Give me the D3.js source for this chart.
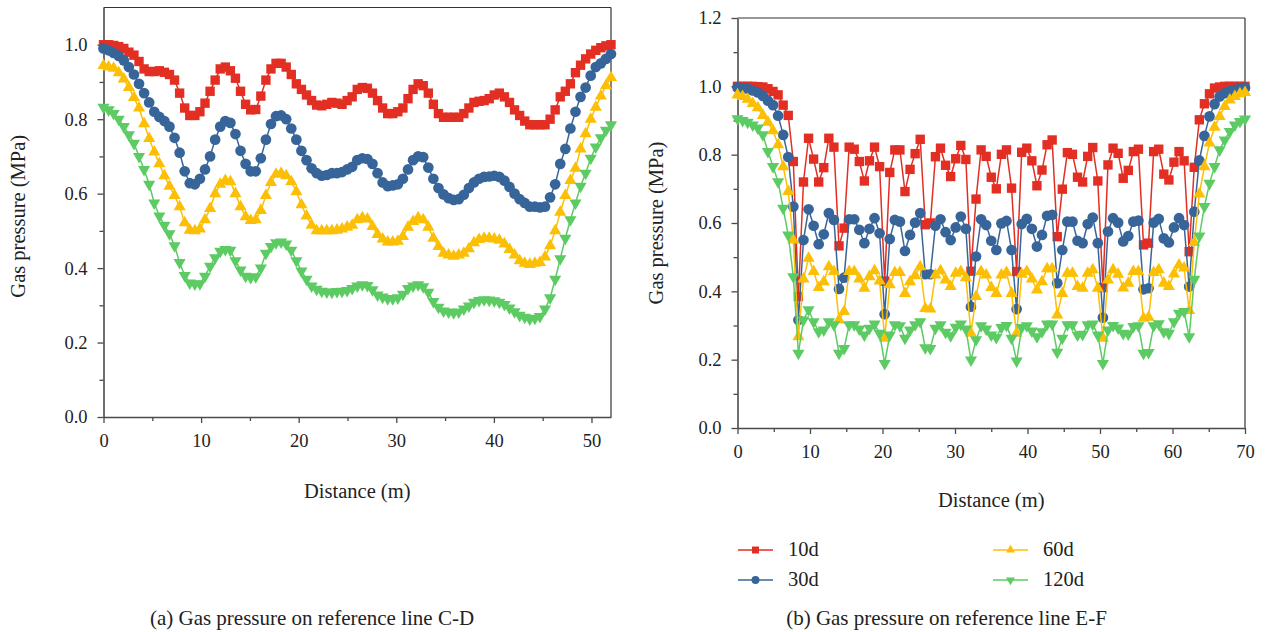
<!DOCTYPE html>
<html><head><meta charset="utf-8">
<script src="https://cdn.jsdelivr.net/npm/d3@7"></script>
<style>
body{margin:0;background:#fff}
text{font-family:"Liberation Serif","DejaVu Serif",serif;fill:#222}
</style>
</head><body>
<svg id="chart" width="1265" height="632"></svg>
<script>
// ---------- data ----------
const seriesNames = ["10d", "30d", "60d", "120d"];
const seriesColors = ["#e22e23", "#386599", "#fcbf05", "#5dcb63"];

// reference line C-D : 101 samples, 0.52 m apart (0 .. 52 m)
const cdStep = 0.52;
const cd10 = [1.0,1.0,0.998,0.995,0.99,0.98,0.972,0.955,0.935,0.928,
0.928,0.93,0.926,0.92,0.905,0.87,0.83,0.81,0.81,0.82,
0.843,0.875,0.905,0.935,0.94,0.93,0.91,0.875,0.84,0.825,
0.826,0.862,0.905,0.935,0.95,0.95,0.94,0.92,0.895,0.88,
0.865,0.85,0.838,0.836,0.84,0.845,0.843,0.84,0.85,0.86,
0.88,0.885,0.883,0.87,0.85,0.83,0.815,0.815,0.82,0.83,
0.855,0.88,0.895,0.89,0.87,0.84,0.815,0.805,0.805,0.805,
0.805,0.815,0.83,0.845,0.848,0.85,0.855,0.865,0.87,0.86,
0.845,0.825,0.81,0.795,0.785,0.785,0.785,0.785,0.80,0.825,
0.86,0.875,0.895,0.925,0.945,0.962,0.975,0.985,0.992,0.997,
1.0];
const cd30 = [0.99,0.985,0.978,0.97,0.958,0.94,0.92,0.895,0.87,0.845,
0.82,0.806,0.795,0.78,0.75,0.71,0.66,0.628,0.625,0.64,
0.665,0.70,0.745,0.78,0.795,0.79,0.76,0.715,0.68,0.66,
0.66,0.695,0.745,0.787,0.808,0.81,0.80,0.775,0.745,0.715,
0.69,0.668,0.655,0.648,0.65,0.655,0.655,0.658,0.665,0.672,
0.69,0.695,0.693,0.68,0.655,0.63,0.62,0.622,0.625,0.64,
0.665,0.69,0.70,0.698,0.67,0.64,0.615,0.598,0.588,0.583,
0.585,0.597,0.615,0.63,0.64,0.645,0.646,0.648,0.645,0.635,
0.618,0.60,0.585,0.575,0.565,0.565,0.563,0.565,0.59,0.625,
0.68,0.72,0.775,0.82,0.86,0.885,0.917,0.94,0.95,0.962,
0.975];
const cd60 = [0.944,0.94,0.937,0.925,0.908,0.885,0.858,0.83,0.788,0.748,
0.712,0.68,0.648,0.62,0.595,0.565,0.522,0.502,0.50,0.505,
0.53,0.56,0.60,0.625,0.635,0.632,0.60,0.565,0.538,0.528,
0.53,0.555,0.595,0.63,0.652,0.655,0.648,0.632,0.605,0.57,
0.54,0.515,0.50,0.50,0.50,0.50,0.502,0.505,0.51,0.515,
0.53,0.535,0.532,0.512,0.49,0.478,0.47,0.47,0.472,0.485,
0.51,0.525,0.535,0.53,0.51,0.48,0.458,0.44,0.435,0.432,
0.435,0.44,0.452,0.468,0.477,0.48,0.48,0.478,0.475,0.465,
0.45,0.435,0.42,0.413,0.41,0.413,0.415,0.43,0.46,0.50,
0.55,0.595,0.635,0.668,0.72,0.761,0.80,0.832,0.862,0.89,
0.912];
const cd120 = [0.832,0.825,0.815,0.80,0.78,0.758,0.735,0.70,0.665,0.625,
0.575,0.54,0.515,0.492,0.46,0.415,0.38,0.36,0.357,0.358,
0.378,0.405,0.428,0.445,0.45,0.448,0.42,0.395,0.378,0.375,
0.377,0.40,0.44,0.458,0.468,0.47,0.465,0.448,0.42,0.392,
0.37,0.352,0.343,0.338,0.336,0.335,0.337,0.338,0.34,0.345,
0.352,0.355,0.353,0.342,0.328,0.322,0.318,0.318,0.32,0.33,
0.345,0.352,0.355,0.35,0.335,0.31,0.295,0.285,0.282,0.28,
0.282,0.29,0.298,0.308,0.313,0.315,0.314,0.312,0.308,0.302,
0.293,0.283,0.273,0.268,0.263,0.265,0.27,0.29,0.32,0.37,
0.425,0.48,0.53,0.575,0.62,0.655,0.695,0.725,0.75,0.77,
0.785];

// reference line E-F : 101 samples, 0.7 m apart (0 .. 70 m)
const efStep = 0.7;
const ef10 = [1.0,1.0,1.0,1.0,0.999,0.998,0.993,0.985,0.975,0.945,
0.915,0.78,0.385,0.72,0.848,0.787,0.72,0.762,0.848,0.822,
0.533,0.585,0.822,0.816,0.78,0.723,0.782,0.822,0.765,0.43,
0.748,0.814,0.814,0.692,0.757,0.803,0.845,0.595,0.6,0.794,
0.819,0.769,0.736,0.788,0.827,0.786,0.459,0.67,0.814,0.795,
0.734,0.70,0.801,0.814,0.702,0.458,0.807,0.819,0.782,0.709,
0.755,0.829,0.843,0.56,0.699,0.806,0.801,0.734,0.72,0.795,
0.821,0.723,0.411,0.77,0.819,0.804,0.731,0.754,0.809,0.816,
0.536,0.541,0.809,0.816,0.743,0.726,0.778,0.809,0.782,0.516,
0.763,0.902,0.949,0.978,0.995,0.998,1.0,1.0,1.0,1.0,
1.0];
const ef30 = [0.997,0.995,0.993,0.988,0.982,0.972,0.958,0.945,0.914,0.858,
0.793,0.648,0.316,0.55,0.64,0.592,0.538,0.567,0.629,0.609,
0.407,0.44,0.611,0.611,0.58,0.541,0.583,0.614,0.57,0.333,
0.553,0.609,0.604,0.518,0.565,0.601,0.629,0.45,0.45,0.592,
0.611,0.573,0.55,0.587,0.619,0.583,0.355,0.502,0.611,0.594,
0.548,0.521,0.599,0.606,0.521,0.348,0.597,0.612,0.583,0.531,
0.565,0.621,0.624,0.424,0.521,0.604,0.604,0.548,0.541,0.597,
0.616,0.541,0.323,0.575,0.614,0.601,0.546,0.562,0.604,0.607,
0.406,0.409,0.601,0.612,0.555,0.543,0.587,0.614,0.594,0.414,
0.633,0.783,0.855,0.912,0.948,0.97,0.98,0.986,0.99,0.994,
0.996];
const ef60 = [0.975,0.97,0.962,0.95,0.937,0.915,0.895,0.87,0.829,0.765,
0.692,0.55,0.267,0.436,0.497,0.458,0.411,0.428,0.472,0.458,
0.316,0.341,0.458,0.458,0.436,0.409,0.443,0.46,0.43,0.263,
0.419,0.455,0.455,0.394,0.428,0.446,0.472,0.35,0.348,0.448,
0.46,0.433,0.414,0.453,0.458,0.44,0.277,0.385,0.458,0.448,
0.411,0.394,0.448,0.455,0.394,0.277,0.45,0.458,0.436,0.404,
0.428,0.466,0.466,0.331,0.394,0.453,0.453,0.414,0.409,0.453,
0.463,0.409,0.263,0.433,0.463,0.45,0.41,0.424,0.458,0.458,
0.321,0.324,0.455,0.463,0.424,0.414,0.451,0.477,0.468,0.344,
0.543,0.685,0.765,0.834,0.88,0.912,0.941,0.96,0.97,0.978,
0.982];
const ef120 = [0.905,0.9,0.895,0.887,0.878,0.858,0.809,0.765,0.721,0.643,
0.565,0.443,0.219,0.316,0.346,0.311,0.282,0.287,0.311,0.302,
0.219,0.233,0.302,0.302,0.29,0.272,0.292,0.304,0.277,0.189,
0.272,0.302,0.299,0.263,0.287,0.302,0.311,0.235,0.233,0.292,
0.302,0.28,0.27,0.295,0.304,0.29,0.199,0.258,0.299,0.29,
0.272,0.265,0.294,0.3,0.263,0.196,0.294,0.299,0.284,0.267,
0.282,0.304,0.304,0.222,0.263,0.302,0.302,0.272,0.274,0.302,
0.304,0.272,0.189,0.287,0.3,0.293,0.277,0.275,0.297,0.299,
0.219,0.221,0.299,0.305,0.282,0.277,0.311,0.336,0.341,0.267,
0.435,0.562,0.648,0.716,0.765,0.814,0.843,0.868,0.887,0.897,
0.904];

const cdXTicks = [0, 10, 20, 30, 40, 50];
const cdYTicks = [0, 0.2, 0.4, 0.6, 0.8, 1.0];
const efXTicks = [0, 10, 20, 30, 40, 50, 60, 70];
const efYTicks = [0, 0.2, 0.4, 0.6, 0.8, 1.0, 1.2];
const yTitle = "Gas pressure (MPa)";
const xTitle = "Distance (m)";
const captionA = "(a) Gas pressure on reference line C-D";
const captionB = "(b) Gas pressure on reference line E-F";

// ---------- drawing ----------
const svg = d3.select("#chart");
const symbolTypes = [d3.symbolSquare, d3.symbolCircle, d3.symbolTriangle, d3.symbolTriangle];
const symbolSizes = [88, 90, 64, 64];
const symbolRot = [0, 0, 0, 180];
const axisColor = "#4a4a4a";
const tickFont = "18.5px";
const titleFont = "20.5px";

function drawPanel(opt) {
  const x = d3.scaleLinear().domain(opt.xDomain).range([opt.left, opt.right]);
  const y = d3.scaleLinear().domain(opt.yDomain).range([opt.bottom, opt.top]);
  const g = svg.append("g");

  // frame (top and right)
  g.append("line").attr("x1", opt.left).attr("x2", opt.right).attr("y1", opt.top).attr("y2", opt.top)
    .attr("stroke", "#333").attr("stroke-width", 1.2);
  g.append("line").attr("x1", opt.right).attr("x2", opt.right).attr("y1", opt.top).attr("y2", opt.bottom)
    .attr("stroke", "#333").attr("stroke-width", 1.2);

  // minor ticks
  const xMinor = opt.xTicks.slice(0, -1).map(v => v + 5);
  if (opt.xTicks[opt.xTicks.length - 1] + 5 <= opt.xDomain[1]) xMinor.push(opt.xTicks[opt.xTicks.length - 1] + 5);
  const yMinor = opt.yTicks.slice(0, -1).map(v => +(v + 0.1).toFixed(2));
  g.append("g").attr("transform", `translate(0,${opt.bottom})`)
    .call(d3.axisBottom(x).tickValues(xMinor).tickSize(4).tickFormat(""))
    .call(s => s.select(".domain").remove());
  g.append("g").attr("transform", `translate(${opt.left},0)`)
    .call(d3.axisLeft(y).tickValues(yMinor).tickSize(4).tickFormat(""))
    .call(s => s.select(".domain").remove());

  // major axes
  const xa = g.append("g").attr("transform", `translate(0,${opt.bottom})`)
    .call(d3.axisBottom(x).tickValues(opt.xTicks).tickSize(6).tickSizeOuter(0).tickPadding(11).tickFormat(d3.format("d")));
  const ya = g.append("g").attr("transform", `translate(${opt.left},0)`)
    .call(d3.axisLeft(y).tickValues(opt.yTicks).tickSize(6).tickSizeOuter(0).tickPadding(10).tickFormat(d3.format(".1f")));
  [xa, ya].forEach(a => {
    a.selectAll("text").style("font-size", tickFont).style("font-family", '"Liberation Serif",serif').attr("fill", "#222");
    a.select(".domain").attr("stroke", axisColor).attr("stroke-width", 1.6);
  });
  g.selectAll("g.tick line").attr("stroke", axisColor).attr("stroke-width", 1.3);

  // series
  opt.series.forEach((vals, si) => {
    const pts = vals.map((v, i) => [i * opt.step, v]);
    g.append("path").datum(pts)
      .attr("fill", "none").attr("stroke", seriesColors[si]).attr("stroke-width", 1.5)
      .attr("d", d3.line().x(d => x(d[0])).y(d => y(d[1])));
    const sym = d3.symbol().type(symbolTypes[si]).size(symbolSizes[si]);
    g.append("g").selectAll("path").data(pts).join("path")
      .attr("d", sym)
      .attr("fill", seriesColors[si])
      .attr("transform", d => `translate(${x(d[0])},${y(d[1])}) rotate(${symbolRot[si]})`);
  });

  // titles
  g.append("text").attr("x", (opt.left + opt.right) / 2).attr("y", opt.xTitleY)
    .attr("text-anchor", "middle").style("font-size", titleFont).text(xTitle);
  g.append("text").attr("transform", `translate(${opt.yTitleX},${(opt.top + opt.bottom) / 2 + opt.yTitleShift}) rotate(-90)`)
    .attr("text-anchor", "middle").style("font-size", titleFont).text(yTitle);
  g.append("text").attr("x", opt.captionX).attr("y", 625)
    .attr("text-anchor", "middle").style("font-size", "21px").text(opt.caption);
}

drawPanel({
  left: 103.5, right: 611, top: 7.5, bottom: 417,
  xDomain: [0, 52], yDomain: [0, 1.1],
  xTicks: cdXTicks, yTicks: cdYTicks,
  series: [cd10, cd30, cd60, cd120], step: cdStep,
  xTitleY: 498, yTitleX: 25, yTitleShift: 4,
  caption: captionA, captionX: 312
});
drawPanel({
  left: 737.5, right: 1245, top: 18, bottom: 428,
  xDomain: [0, 70], yDomain: [0, 1.2],
  xTicks: efXTicks, yTicks: efYTicks,
  series: [ef10, ef30, ef60, ef120], step: efStep,
  xTitleY: 507, yTitleX: 663, yTitleShift: 0,
  caption: captionB, captionX: 946.5
});

// legend
const legendPos = [[738, 550], [738, 580], [993, 550], [993, 580]];
const lg = svg.append("g");
seriesNames.forEach((name, si) => {
  const [lx, ly] = legendPos[si];
  lg.append("line").attr("x1", lx).attr("x2", lx + 35).attr("y1", ly).attr("y2", ly)
    .attr("stroke", seriesColors[si]).attr("stroke-width", 1.5);
  lg.append("path").attr("d", d3.symbol().type(symbolTypes[si]).size(symbolSizes[si] * 0.55))
    .attr("fill", seriesColors[si])
    .attr("transform", `translate(${lx + 17.5},${ly}) rotate(${symbolRot[si]})`);
  lg.append("text").attr("x", lx + 50).attr("y", ly + 6).style("font-size", titleFont).text(name);
});
</script>
</body></html>
